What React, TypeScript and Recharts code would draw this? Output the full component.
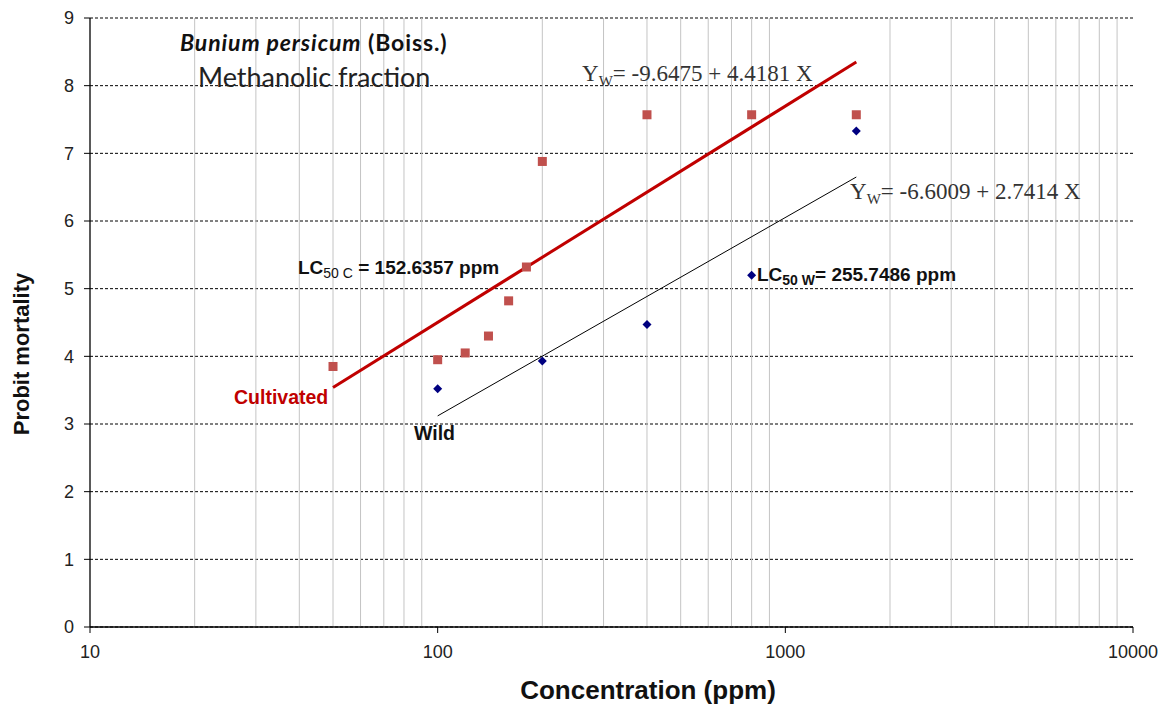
import {
  ComposedChart,
  Scatter,
  XAxis,
  YAxis,
  CartesianGrid,
  ReferenceLine,
} from "recharts";

// concentrations (ppm) and probit values
const cultivatedConc = [50, 100, 120, 140, 160, 180, 200, 400, 800, 1600];
const cultivatedProbit = [3.85, 3.95, 4.05, 4.3, 4.82, 5.32, 6.88, 7.57, 7.57, 7.57];
const wildConc = [100, 200, 400, 800, 1600];
const wildProbit = [3.52, 3.93, 4.47, 5.2, 7.33];

// regression line end points
const cultivatedFitConc = [50, 1600];
const cultivatedFitProbit = [3.54, 8.35];
const wildFitConc = [100, 1600];
const wildFitProbit = [3.12, 6.65];

const xTicks = [10, 100, 1000, 10000];
const yTicks = [0, 1, 2, 3, 4, 5, 6, 7, 8, 9];
const minorTicks = [
  20, 30, 40, 50, 60, 70, 80, 90,
  200, 300, 400, 500, 600, 700, 800, 900,
  2000, 3000, 4000, 5000, 6000, 7000, 8000, 9000,
];

const zip = (xs: number[], ys: number[]) => xs.map((x, i) => ({ x, y: ys[i] }));

const cultivated = zip(cultivatedConc, cultivatedProbit);
const wild = zip(wildConc, wildProbit);
const cultivatedFit = zip(cultivatedFitConc, cultivatedFitProbit);
const wildFit = zip(wildFitConc, wildFitProbit);

const SANS = "'Liberation Sans', Arial, sans-serif";
const SERIF = "'Liberation Serif', 'Times New Roman', serif";
const TITLE = "Lato, 'Open Sans', sans-serif";

const Square = (props: any) => {
  const { cx, cy } = props;
  if (cx == null || cy == null) return <g />;
  return <rect x={cx - 4.5} y={cy - 4.5} width={9} height={9} fill="#c0504d" />;
};

const Diamond = (props: any) => {
  const { cx, cy } = props;
  if (cx == null || cy == null) return <g />;
  const r = 4.5;
  return (
    <polygon
      points={`${cx},${cy - r} ${cx + r},${cy} ${cx},${cy + r} ${cx - r},${cy}`}
      fill="#000080"
    />
  );
};

const NoDot = () => <g />;

const txt = (left: number, top: number, extra: React.CSSProperties = {}): React.CSSProperties => ({
  position: "absolute",
  left,
  top,
  lineHeight: 1,
  whiteSpace: "nowrap",
  ...extra,
});

const subW = { fontSize: 15, verticalAlign: -5 };

export default function App() {
  return (
    <div style={{ position: "absolute", left: 0, top: 0, width: 1166, height: 708, background: "#fff" }}>
      <ComposedChart
        width={1166}
        height={708}
        margin={{ top: 18, right: 33, left: 40, bottom: 51 }}
      >
        <CartesianGrid vertical={false} stroke="#000" strokeDasharray="3 2" />
        {minorTicks.map((v) => (
          <ReferenceLine key={v} x={v} stroke="#c4c4c4" strokeWidth={1} />
        ))}
        <XAxis
          dataKey="x"
          type="number"
          scale="log"
          domain={[10, 10000]}
          ticks={xTicks}
          allowDataOverflow
          height={30}
          tickSize={6}
          tickMargin={12}
          axisLine={{ stroke: "#000", strokeWidth: 1.3 }}
          tickLine={{ stroke: "#000" }}
          tick={{ fill: "#222", fontSize: 18, fontFamily: SANS }}
        />
        <YAxis
          dataKey="y"
          type="number"
          domain={[0, 9]}
          ticks={yTicks}
          width={50}
          tickSize={6}
          tickMargin={10}
          axisLine={{ stroke: "#000", strokeWidth: 1.3 }}
          tickLine={{ stroke: "#000" }}
          tick={{ fill: "#222", fontSize: 18, fontFamily: SANS }}
        />
        <Scatter
          data={cultivatedFit}
          shape={NoDot}
          line={{ stroke: "#c00000", strokeWidth: 3 }}
          isAnimationActive={false}
        />
        <Scatter
          data={wildFit}
          shape={NoDot}
          line={{ stroke: "#000", strokeWidth: 1 }}
          isAnimationActive={false}
        />
        <Scatter data={cultivated} shape={Square} isAnimationActive={false} />
        <Scatter data={wild} shape={Diamond} isAnimationActive={false} />
      </ComposedChart>

      <div
        style={txt(180, 31, {
          fontFamily: TITLE,
          fontSize: 23,
          fontWeight: 700,
          letterSpacing: 0.9,
          color: "#111",
        })}
      >
        <i>Bunium persicum</i> (Boiss.)
      </div>
      <div style={txt(198, 63, { fontFamily: TITLE, fontSize: 27, color: "#222" })}>
        Methanolic fraction
      </div>

      <div style={txt(582, 62, { fontFamily: SERIF, fontSize: 23, color: "#333" })}>
        Y<sub style={subW}>W</sub>= -9.6475 + 4.4181 X
      </div>
      <div style={txt(850, 180, { fontFamily: SERIF, fontSize: 23, color: "#333" })}>
        Y<sub style={subW}>W</sub>= -6.6009 + 2.7414 X
      </div>

      <div style={txt(298, 258, { fontFamily: SANS, fontSize: 19, fontWeight: 700, color: "#111" })}>
        LC<sub style={{ fontSize: 14, fontWeight: 400, verticalAlign: -4 }}>50 C</sub> = 152.6357 ppm
      </div>
      <div style={txt(757, 265, { fontFamily: SANS, fontSize: 19, fontWeight: 700, color: "#111" })}>
        LC<sub style={{ fontSize: 14, fontWeight: 700, verticalAlign: -4 }}>50 W</sub>= 255.7486 ppm
      </div>

      <div style={txt(234, 388, { fontFamily: SANS, fontSize: 19.5, fontWeight: 700, color: "#c00000" })}>
        Cultivated
      </div>
      <div style={txt(414, 424, { fontFamily: SANS, fontSize: 19.5, fontWeight: 700, color: "#111" })}>
        Wild
      </div>

      <div
        style={txt(22, 354, {
          fontFamily: SANS,
          fontSize: 22,
          fontWeight: 700,
          color: "#111",
          transform: "translate(-50%, -50%) rotate(-90deg)",
        })}
      >
        Probit mortality
      </div>
      <div
        style={txt(648, 690, {
          fontFamily: SANS,
          fontSize: 26,
          fontWeight: 700,
          color: "#111",
          transform: "translate(-50%, -50%)",
        })}
      >
        Concentration (ppm)
      </div>
    </div>
  );
}
